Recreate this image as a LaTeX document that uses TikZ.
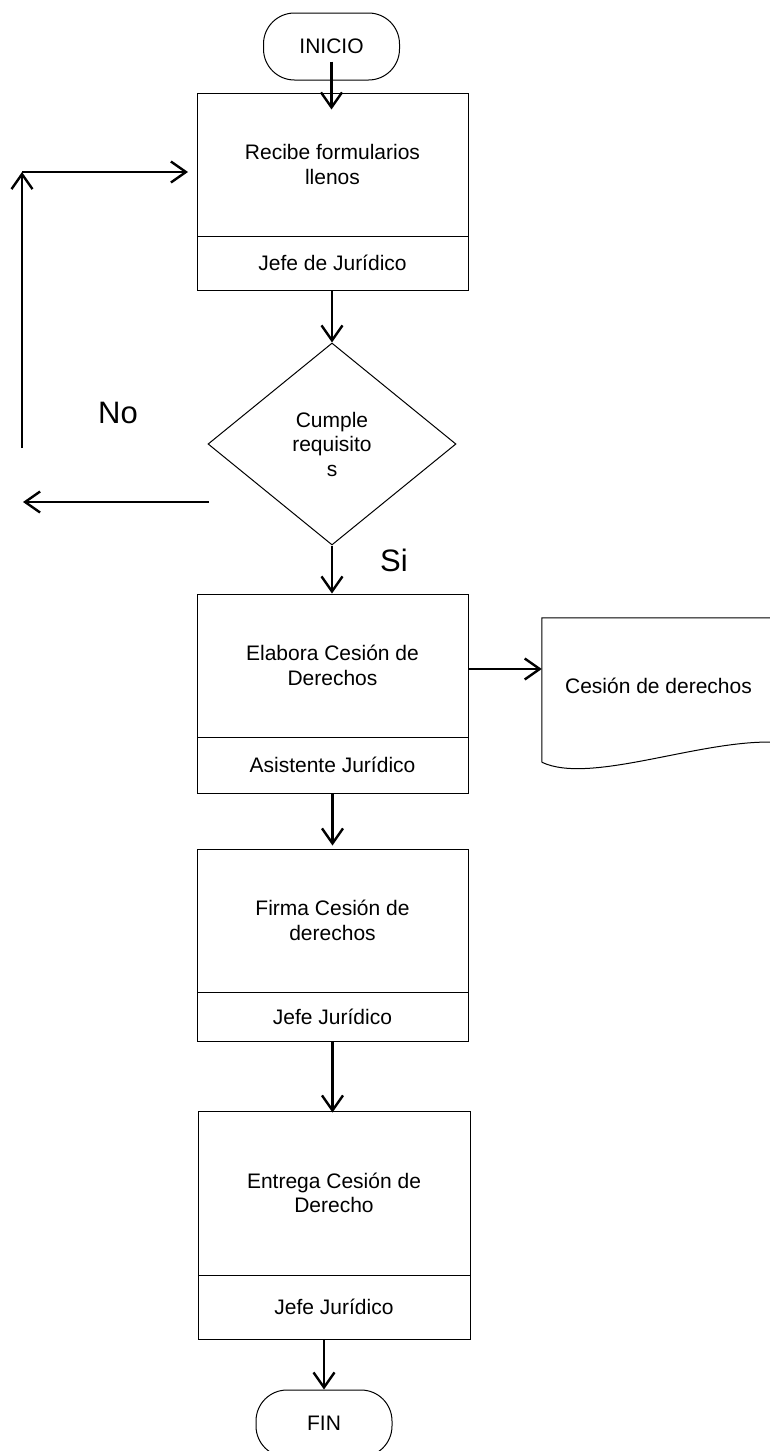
\documentclass[tikz,border=0pt]{standalone}
\usepackage{fontspec}
\setmainfont{Liberation Sans}
\usetikzlibrary{shapes.geometric,arrows.meta,calc}

\tikzset{
  txt/.style={font=\fontsize{21}{24.5}\selectfont, align=center},
  task/.style={txt, draw, line width=1pt, minimum width=271pt, inner sep=0pt},
  term/.style={txt, draw, line width=1pt, rounded corners=31pt,
               minimum width=136pt, minimum height=67pt, inner sep=0pt},
  decision/.style={txt, draw, diamond, line width=1pt, inner sep=0pt,
               minimum width=248pt, minimum height=202pt},
  arr/.style={line width=2.4pt, -{Straight Barb[length=15pt,width=21pt,line width=2.4pt]}},
  big/.style={font=\fontsize{31}{36}\selectfont}
}

\begin{document}
\begin{tikzpicture}[x=1pt,y=-1pt]
\clip (0,0) rectangle (770,1451);

% start / end terminals
\node[term] (ini) at (331.5,46.5) {INICIO};
\node[term] (fin) at (324,1423.5) {FIN};

% task 1
\node[task, minimum height=143pt] (b1) at (332.5,164.5) {Recibe formularios\\llenos};
\node[task, minimum height=54pt]  (b1r) at (332.5,263) {Jefe de Jurídico};

% decision
\node[decision] (dec) at (332,444) {Cumple\\requisito\\s};

% task 2
\node[task, minimum height=143pt] (b2) at (332.5,665.5) {Elabora Cesión de\\Derechos};
\node[task, minimum height=56pt]  (b2r) at (332.5,765) {Asistente Jurídico};

% task 3
\node[task, minimum height=143pt] (b3) at (332.5,920.5) {Firma Cesión de\\derechos};
\node[task, minimum height=49pt]  (b3r) at (332.5,1016.5) {Jefe Jurídico};

% task 4
\node[task, minimum height=164pt, minimum width=272pt] (b4) at (334,1193) {Entrega Cesión de\\Derecho};
\node[task, minimum height=64pt, minimum width=272pt]  (b4r) at (334,1307) {Jefe Jurídico};

% output document
\node[txt, inner sep=0pt, minimum width=233pt, minimum height=144pt] (doc) at (658.5,690)
  {\raisebox{8pt}{Cesión de derechos}};
\draw[line width=1pt] (doc.south west) -- (doc.north west) -- (doc.north east)
  (doc.south west) .. controls ++(48,23) and ++(-75,-3) .. ($(doc.south east)+(0,-20)$);

% branch labels
\node[big] (no) at (118,413) {No};
\node[big] (si) at (394,560) {Si};

% loop-back route for the "No" branch
\coordinate (noA) at (209,502);
\coordinate (noB) at (23,502);
\coordinate (upA) at (22,448);
\coordinate (upB) at (22,172);
\coordinate (rgt) at (188,172);

% flow connectors
\draw[arr] ([yshift=-15pt]ini.center) -- ([yshift=-17pt]b1.north -| ini.center);
\draw[arr] (b1r.south -| dec.north) -- (dec.north);
\draw[arr] (dec.south) -- (b2.north -| dec.south);
\draw[arr] (b2.east |- 0,669) -- (doc.west |- 0,669);
\draw[arr] (b2r.south) -- ([yshift=3pt]b3.north);
\draw[arr] (b3r.south) -- ([yshift=-2pt]b4.north -| b3r.south);
\draw[arr] (b4r.south -| fin.north) -- (fin.north);
\draw[arr] (noA) -- (noB);
\draw[arr] (upA) -- (upB);
\draw[arr] (upB) -- (rgt);
\end{tikzpicture}
\end{document}
